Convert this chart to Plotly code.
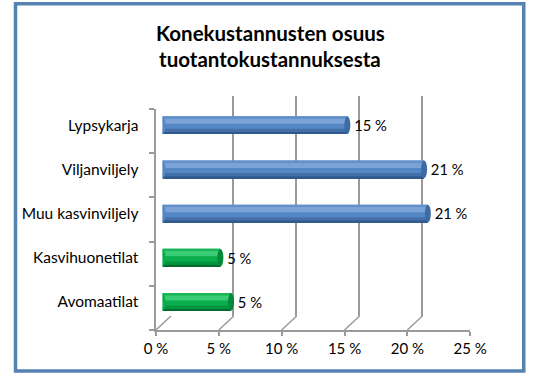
import plotly.graph_objects as go

# ---- data ----
categories = ["Lypsykarja", "Viljanviljely", "Muu kasvinviljely", "Kasvihuonetilat", "Avomaatilat"]
values = [14.7, 20.8, 21.1, 4.6, 5.45]
groups = ["kotiel", "kasvi", "kasvi", "puutarha", "puutarha"]
x_ticks = [0, 5, 10, 15, 20, 25]
x_tick_labels = ["0 %", "5 %", "10 %", "15 %", "20 %", "25 %"]
title_lines = ["Konekustannusten osuus", "tuotantokustannuksesta"]

# ---- style ----
W, H = 545, 379
FONT = "Lato"
GRID = "#9a9a9a"
palette = {
    "blue": dict(base="#5587C5", light="#7CA3D7", top="#6690CA", low="#4470AA", bottom="#30598C", cap="#3D6BA5"),
    "green": dict(base="#09AD4B", light="#3ACB75", top="#1AB758", low="#03943F", bottom="#006C2E", cap="#04883A"),
}
group_palette = {"kotiel": "blue", "kasvi": "blue", "puutarha": "green"}
BAR_W = 0.40
HALF = BAR_W / 2
CAP_H = 8.8


def px_x(a, b):
    return [a / W, b / W]


def px_y(top, bottom):
    return [1 - bottom / H, 1 - top / H]


def cols(key):
    return [palette[group_palette[g]][key] for g in groups]


fig = go.Figure()

# back wall grid subplot (x, y)
fig.add_trace(go.Scatter(x=[], y=[], xaxis="x", yaxis="y", showlegend=False))
# front floor / side wall subplot (x2, y2)
fig.add_trace(go.Scatter(x=[], y=[], xaxis="x2", yaxis="y2", showlegend=False))

# bars subplot (x3, y3) - drawn last, on top; layered bands give the cylinder shading
bands = [
    ("base", -HALF, BAR_W),
    ("light", 0.03, 0.12),
    ("top", 0.15, HALF - 0.15),
    ("low", -HALF, 0.115),
    ("bottom", -HALF, 0.04),
]
for i, (key, off, wid) in enumerate(bands):
    bar = dict(
        y=categories, x=values, orientation="h", xaxis="x3", yaxis="y3",
        width=wid, offset=off,
        marker=dict(color=cols(key), line=dict(width=0)),
        showlegend=False, hoverinfo="skip",
    )
    if i == 0:
        bar.update(texttemplate="\u00a0%{x:.0f} %", textposition="outside",
                   textfont=dict(family=FONT, size=15, color="#000000"),
                   cliponaxis=False)
    fig.add_trace(go.Bar(**bar))

order = categories[::-1]
shapes = []
# cylinder end caps (ellipses) at both ends of each bar
for c, v, g in zip(categories, values, groups):
    yi = order.index(c)
    p = palette[group_palette[g]]
    for xv, fill in ((0, p["base"]), (v, p["cap"])):
        shapes.append(dict(type="circle", xref="x3", yref="y3",
                           xsizemode="pixel", ysizemode="pixel",
                           xanchor=xv, yanchor=yi, x0=-3, x1=3, y0=-CAP_H, y1=CAP_H,
                           fillcolor=fill, line=dict(width=0), layer="above"))

# slanted floor lines and side-wall top edge
for v in x_ticks:
    shapes.append(dict(type="line", xref="x2", yref="y2",
                       xsizemode="pixel", ysizemode="pixel",
                       xanchor=v, yanchor=0, x0=0, x1=15, y0=0, y1=14,
                       line=dict(color=GRID, width=1.5), layer="above"))
shapes.append(dict(type="line", xref="x2", yref="y2",
                   xsizemode="pixel", ysizemode="pixel",
                   xanchor=0, yanchor=5, x0=0, x1=15, y0=0, y1=14,
                   line=dict(color=GRID, width=1.5), layer="above"))
# outer border
shapes.append(dict(type="rect", xref="paper", yref="paper",
                   x0=3.7 / W, x1=1 - 4.5 / W, y0=1 - 371 / H, y1=1 - 3.7 / H,
                   line=dict(color="#5581B3", width=3.5), layer="above"))

annotations = []
for i, line in enumerate(title_lines):
    annotations.append(dict(text=line, xref="paper", yref="paper",
                            x=0.5, y=1 - (33 + 26 * i) / H,
                            xanchor="center", yanchor="middle", showarrow=False,
                            font=dict(family=FONT, size=20.5, color="#000000", weight="bold")))

fig.update_layout(
    width=W, height=H, autosize=False,
    margin=dict(l=0, r=0, t=0, b=0),
    paper_bgcolor="white", plot_bgcolor="rgba(0,0,0,0)",
    barmode="overlay",
    shapes=shapes, annotations=annotations,
    font=dict(family=FONT, size=15, color="#000000"),
    # back wall
    xaxis=dict(domain=px_x(167, 499), range=[0, 25], tickvals=x_ticks,
               showticklabels=False, showgrid=True, gridcolor=GRID, gridwidth=1.5,
               zeroline=False, showline=False, anchor="y", fixedrange=True),
    yaxis=dict(domain=px_y(96, 316), range=[0, 1], visible=False, anchor="x",
               fixedrange=True),
    # front floor and side wall
    xaxis2=dict(domain=px_x(152, 484), range=[0, 25], tickvals=x_ticks,
                ticktext=x_tick_labels, showgrid=False, zeroline=False,
                showline=True, linecolor=GRID, linewidth=1.5,
                ticks="outside", ticklen=4, tickcolor=GRID, tickwidth=1.5,
                tickfont=dict(family=FONT, size=15, color="#000000"),
                anchor="y2", fixedrange=True),
    yaxis2=dict(domain=px_y(109, 330), range=[0, 5], tickvals=[0, 1, 2, 3, 4, 5],
                showticklabels=False, showgrid=False, zeroline=False,
                showline=True, linecolor=GRID, linewidth=1.5,
                ticks="outside", ticklen=5, tickcolor=GRID, tickwidth=1.5,
                anchor="x2", fixedrange=True),
    # bars
    xaxis3=dict(domain=px_x(159, 491), range=[0, 25], visible=False,
                anchor="y3", fixedrange=True),
    yaxis3=dict(domain=px_y(103, 324), type="category",
                categoryorder="array", categoryarray=order,
                range=[-0.5, 4.5], showgrid=False, zeroline=False, showline=False,
                ticks="outside", ticklen=0, ticklabelstandoff=20,
                tickfont=dict(family=FONT, size=15.5, color="#000000"),
                anchor="x3", fixedrange=True),
)

fig.write_html("out.html", config={"displayModeBar": False, "responsive": False},
               post_script="document.body.style.margin='0';document.body.style.overflow='hidden';")
